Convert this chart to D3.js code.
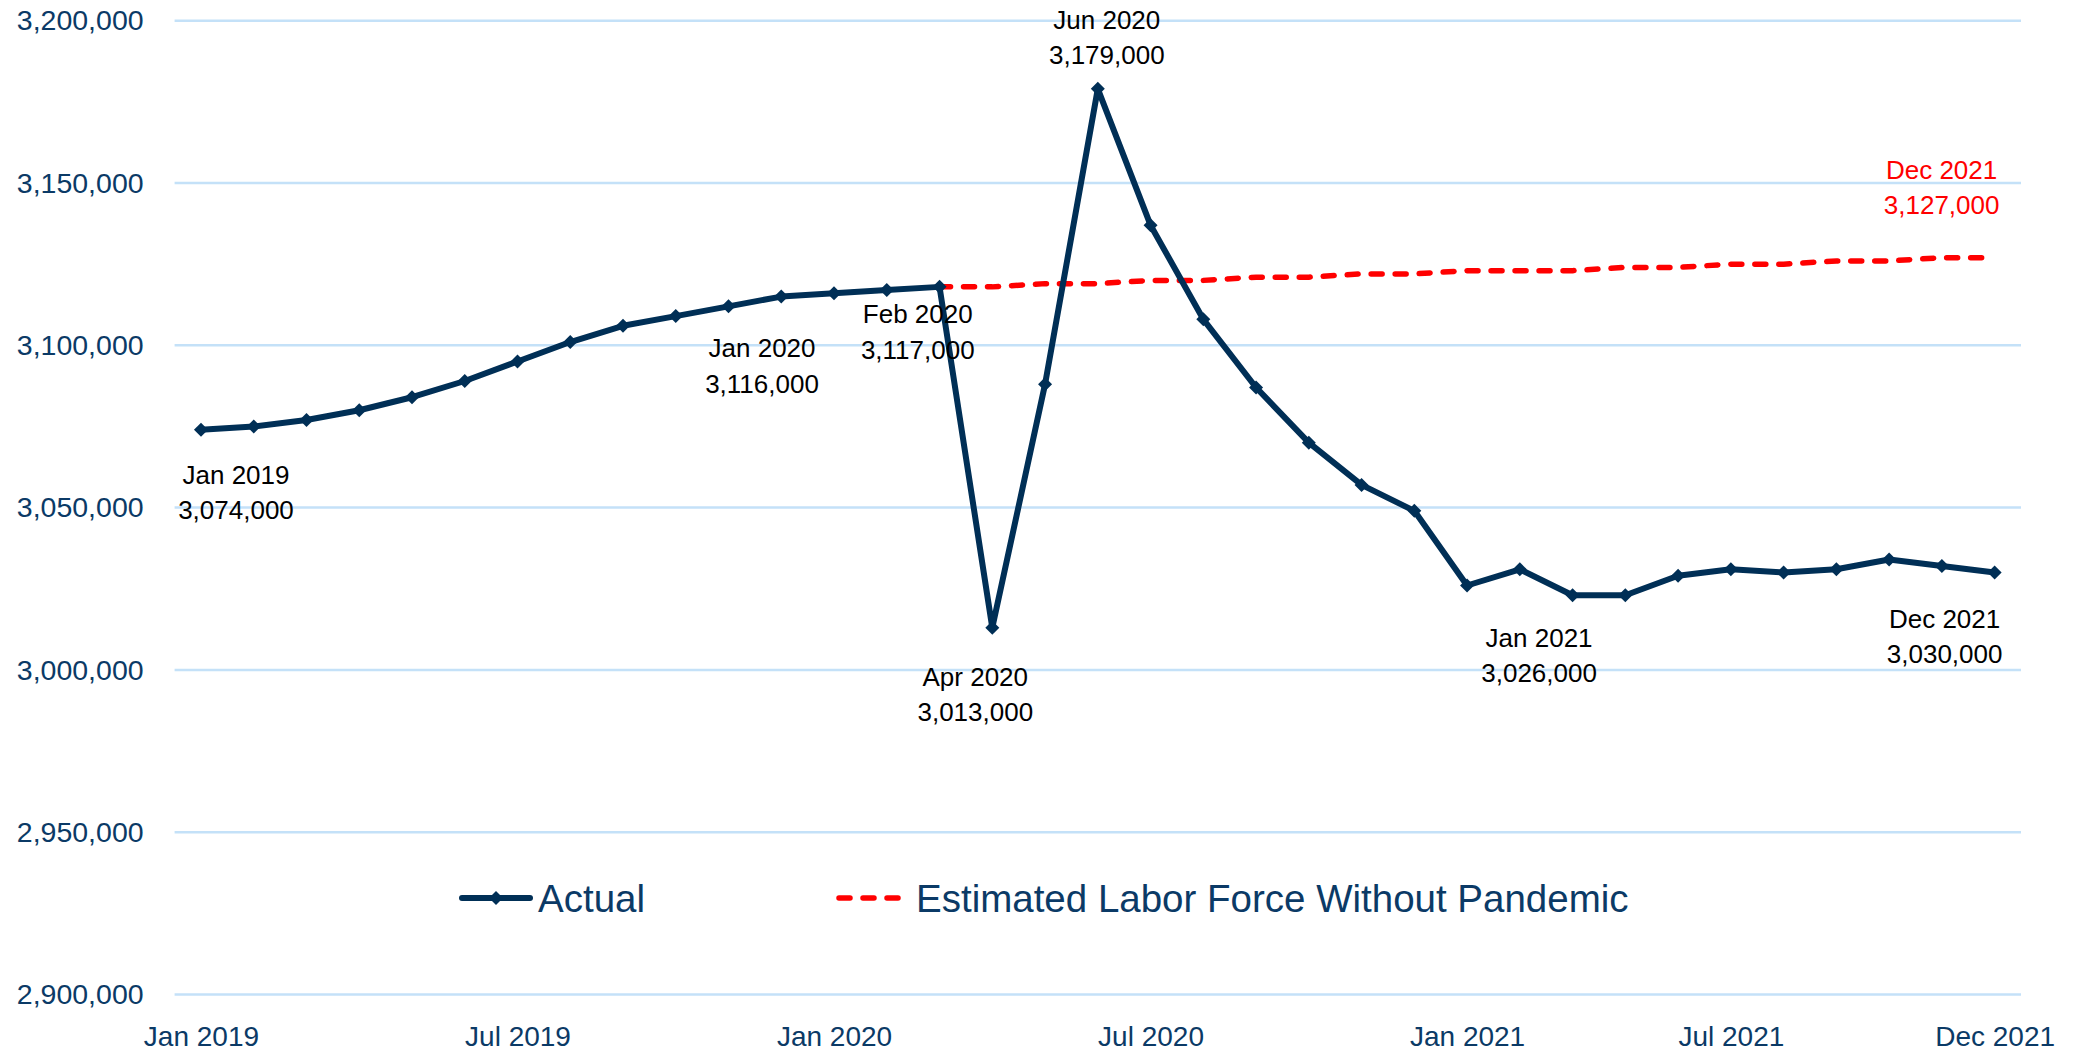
<!DOCTYPE html>
<html>
<head>
<meta charset="utf-8">
<script src="https://cdn.jsdelivr.net/npm/d3@7"></script>
<style>
  body { margin: 0; background: #fff; }
  svg text { font-family: "Liberation Sans", Arial, sans-serif; }
</style>
</head>
<body>
<svg id="canvas" width="2074" height="1050"></svg>
<script>
// monthly categories (the source skips one month in 2021)
var months = [
  'Jan 2019', 'Feb 2019', 'Mar 2019', 'Apr 2019', 'May 2019', 'Jun 2019',
  'Jul 2019', 'Aug 2019', 'Sep 2019', 'Oct 2019', 'Nov 2019', 'Dec 2019',
  'Jan 2020', 'Feb 2020', 'Mar 2020', 'Apr 2020', 'May 2020', 'Jun 2020',
  'Jul 2020', 'Aug 2020', 'Sep 2020', 'Oct 2020', 'Nov 2020', 'Dec 2020',
  'Jan 2021', 'Feb 2021', 'Mar 2021', 'Apr 2021', 'May 2021',
  'Jul 2021', 'Aug 2021', 'Sep 2021', 'Oct 2021', 'Nov 2021', 'Dec 2021'
];

var actual = [
  3074000, 3075000, 3077000, 3080000, 3084000, 3089000,
  3095000, 3101000, 3106000, 3109000, 3112000, 3115000,
  3116000, 3117000, 3118000, 3013000, 3088000, 3179000,
  3137000, 3108000, 3087000, 3070000, 3057000, 3049000,
  3026000, 3031000, 3023000, 3023000, 3029000,
  3031000, 3030000, 3031000, 3034000, 3032000, 3030000
];

// estimate starts at Mar 2020 (index 14)
var estimated = [
  null, null, null, null, null, null, null, null, null, null, null, null,
  null, null, 3118000, 3118000, 3119000, 3119000,
  3120000, 3120000, 3121000, 3121000, 3122000, 3122000,
  3123000, 3123000, 3123000, 3124000, 3124000,
  3125000, 3125000, 3126000, 3126000, 3127000, 3127000
];

var yTicks = [2900000, 2950000, 3000000, 3050000, 3100000, 3150000, 3200000];
var xTickLabels = ['Jan 2019', 'Jul 2019', 'Jan 2020', 'Jul 2020', 'Jan 2021', 'Jul 2021', 'Dec 2021'];

var seriesNames = ['Actual', 'Estimated Labor Force Without Pandemic'];

// which points get a data label: [series, month]
var labelled = [
  ['actual', 'Jan 2019'], ['actual', 'Jan 2020'], ['actual', 'Feb 2020'],
  ['actual', 'Apr 2020'], ['actual', 'Jun 2020'], ['actual', 'Jan 2021'],
  ['actual', 'Dec 2021'], ['estimated', 'Dec 2021']
];

var canvas = d3.select('#canvas');
var width = +canvas.attr('width');
var height = +canvas.attr('height');

var navy = '#002f56';
var textNavy = '#0b3a66';
var red = '#ff0000';

var margin = { left: 174.6, right: 53, top: 20.7, bottom: 55.5 };

var xScale = d3.scalePoint()
  .domain(months)
  .range([margin.left, width - margin.right])
  .padding(0.5);

var yScale = d3.scaleLinear()
  .domain([2900000, 3200000])
  .range([height - margin.bottom, margin.top]);

var fmt = d3.format(',');

// gridlines
canvas.append('g')
  .selectAll('line')
  .data(yTicks)
  .enter()
  .append('line')
  .attr('x1', margin.left)
  .attr('x2', width - margin.right)
  .attr('y1', function(d) { return yScale(d); })
  .attr('y2', function(d) { return yScale(d); })
  .style('stroke', '#c4e1f8')
  .style('stroke-width', 2.5);

// y axis
var yAxis = d3.axisLeft(yScale)
  .tickValues(yTicks)
  .tickFormat(fmt)
  .tickSize(0)
  .tickPadding(31);

var yG = canvas.append('g')
  .attr('transform', 'translate(' + margin.left + ',0)')
  .call(yAxis);
yG.select('.domain').remove();
yG.selectAll('text')
  .style('font-size', '28.5px')
  .style('fill', textNavy);

// x axis
var xAxis = d3.axisBottom(xScale)
  .tickValues(xTickLabels)
  .tickSize(0)
  .tickPadding(0);

var xG = canvas.append('g')
  .attr('transform', 'translate(0,' + (height - margin.bottom) + ')')
  .call(xAxis);
xG.select('.domain').remove();
xG.selectAll('text')
  .attr('y', 51)
  .attr('dy', null)
  .style('font-size', '28px')
  .style('fill', textNavy);

// lines
var actualPts = months.map(function(m, i) { return { m: m, v: actual[i] }; });
var estPts = months.map(function(m, i) { return { m: m, v: estimated[i] }; })
  .filter(function(d) { return d.v !== null; });

var line = d3.line()
  .x(function(d) { return xScale(d.m); })
  .y(function(d) { return yScale(d.v); });

canvas.append('path')
  .datum(estPts)
  .attr('d', line)
  .style('fill', 'none')
  .style('stroke', red)
  .style('stroke-width', 5.5)
  .style('stroke-dasharray', '11,13')
  .style('stroke-linecap', 'round');

canvas.append('path')
  .datum(actualPts)
  .attr('d', line)
  .style('fill', 'none')
  .style('stroke', navy)
  .style('stroke-width', 6)
  .style('stroke-linejoin', 'round');

var diamond = d3.symbol().type(d3.symbolDiamond2).size(125);

canvas.append('g')
  .selectAll('path')
  .data(actualPts)
  .enter()
  .append('path')
  .attr('d', diamond)
  .attr('transform', function(d) {
    return 'translate(' + xScale(d.m) + ',' + yScale(d.v) + ')';
  })
  .style('fill', navy);

// data labels: offsets of label centre / first baseline from the point
var labelOffset = {
  'actual|Jan 2019': [35, 54],
  'actual|Jan 2020': [-72, 64],
  'actual|Feb 2020': [31, 33],
  'actual|Apr 2020': [-17, 58],
  'actual|Jun 2020': [9, -60],
  'actual|Jan 2021': [72, 61],
  'actual|Dec 2021': [-50, 55],
  'estimated|Dec 2021': [-53, -79]
};

labelled.forEach(function(l) {
  var i = months.indexOf(l[1]);
  var v = l[0] === 'actual' ? actual[i] : estimated[i];
  var off = labelOffset[l[0] + '|' + l[1]];
  var cx = xScale(l[1]) + off[0];
  var cy = yScale(v) + off[1];
  var t = canvas.append('text')
    .attr('text-anchor', 'middle')
    .style('font-size', '26px')
    .style('fill', l[0] === 'actual' ? '#000' : red);
  t.append('tspan').attr('x', cx).attr('y', cy).text(l[1]);
  t.append('tspan').attr('x', cx).attr('y', cy + 35.5).text(fmt(v));
});

// legend
var legY = 898;
var leg1 = canvas.append('g');
leg1.append('line')
  .attr('x1', 462).attr('x2', 530)
  .attr('y1', legY).attr('y2', legY)
  .style('stroke', navy)
  .style('stroke-width', 6)
  .style('stroke-linecap', 'round');
leg1.append('path')
  .attr('d', diamond)
  .attr('transform', 'translate(496,' + legY + ')')
  .style('fill', navy);
leg1.append('text')
  .attr('x', 538).attr('y', legY + 13.5)
  .style('font-size', '38.5px')
  .style('fill', textNavy)
  .text(seriesNames[0]);

var leg2 = canvas.append('g');
leg2.append('line')
  .attr('x1', 839).attr('x2', 898)
  .attr('y1', legY).attr('y2', legY)
  .style('stroke', red)
  .style('stroke-width', 5.5)
  .style('stroke-dasharray', '11,13')
  .style('stroke-linecap', 'round');
leg2.append('text')
  .attr('x', 916).attr('y', legY + 13.5)
  .style('font-size', '38.5px')
  .style('fill', textNavy)
  .text(seriesNames[1]);
</script>
</body>
</html>
